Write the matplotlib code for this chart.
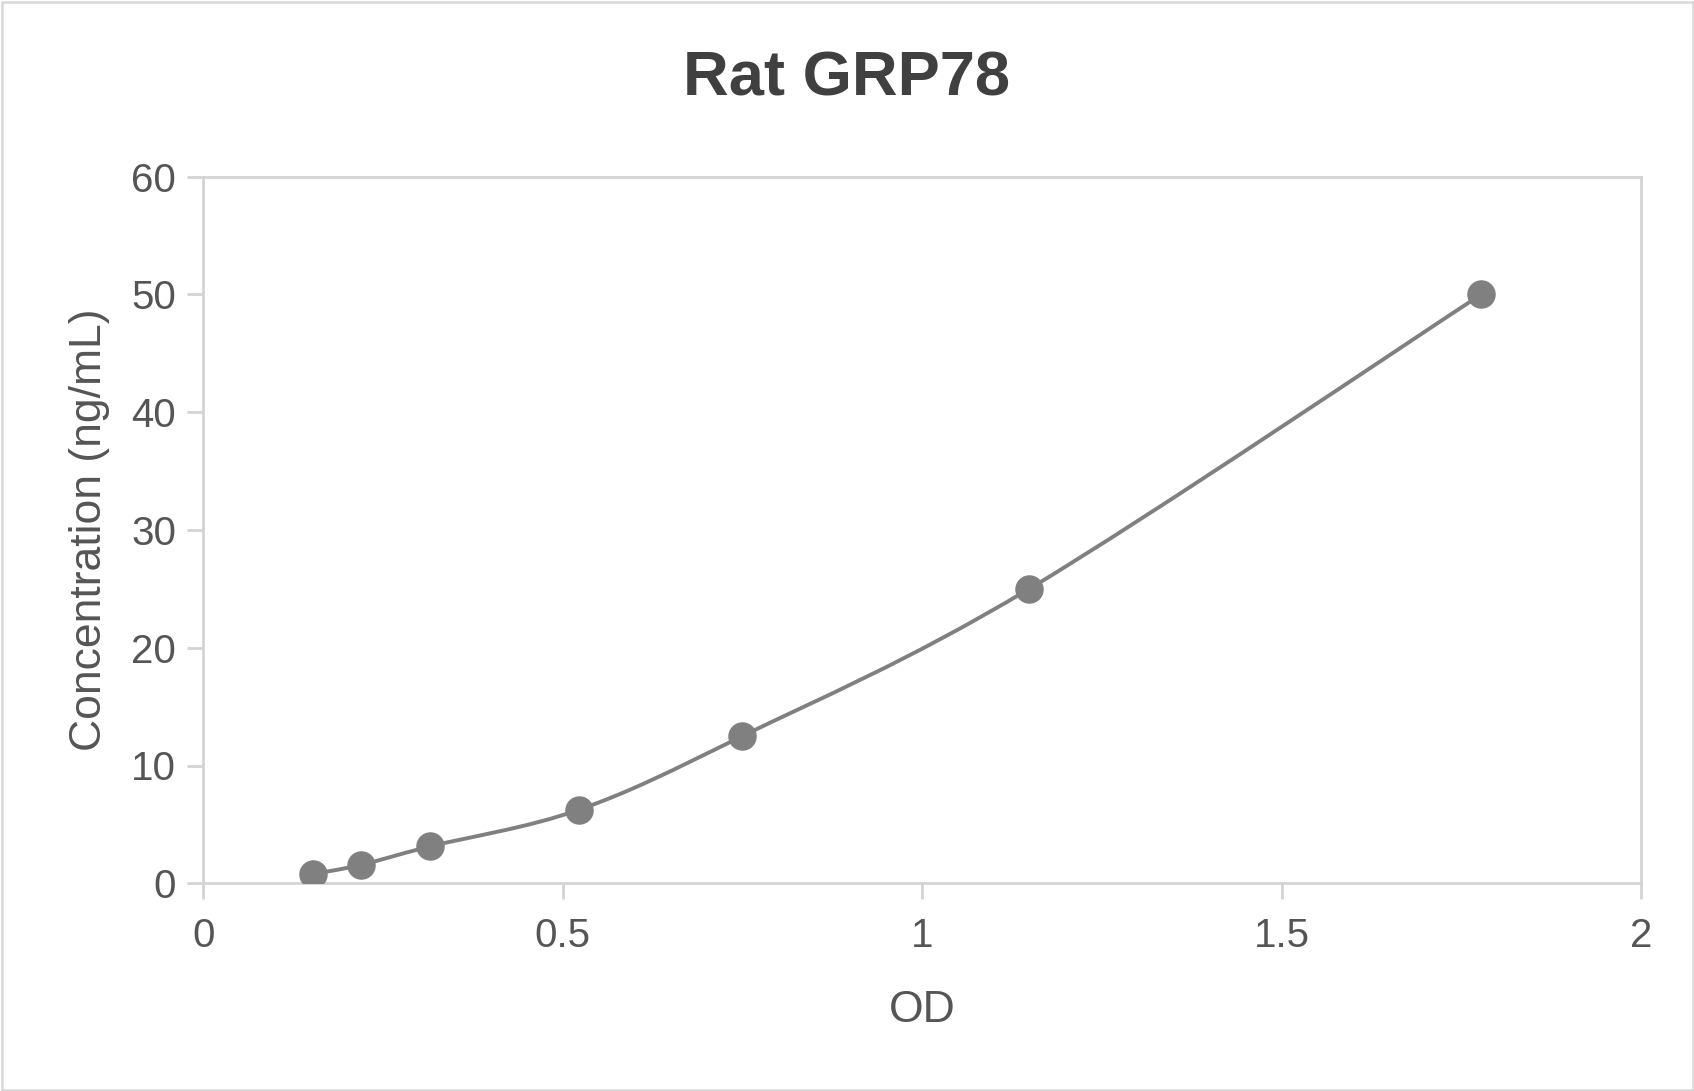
# Rat GRP78 standard curve (OD vs concentration)

import matplotlib.pyplot as plt
from matplotlib.path import Path
from matplotlib.patches import PathPatch, Rectangle

plt.rcParams["font.family"] = ["Liberation Sans", "DejaVu Sans"]

# ---- data ----
od = [0.152, 0.219, 0.315, 0.523, 0.750, 1.149, 1.778]
conc = [0.78, 1.56, 3.125, 6.25, 12.5, 25, 50]

x_ticks = [0, 0.5, 1, 1.5, 2]
x_tick_labels = ["0", "0.5", "1", "1.5", "2"]
y_ticks = [0, 10, 20, 30, 40, 50, 60]

title = "Rat GRP78"
x_label = "OD"
y_label = "Concentration (ng/mL)"

GREY = "#808080"
GRID = "#d4d4d4"
TEXT = "#555555"

W, H = 1694, 1091
fig = plt.figure(figsize=(W / 100, H / 100), dpi=100)
ax = fig.add_axes([203.3 / W, 1 - 883.3 / H, (1641 - 203.3) / W, (883.3 - 176.5) / H])


# smooth curve through the points (Catmull-Rom as cubic Bezier segments)
def smooth_path(xs, ys):
    pts = list(zip(xs, ys))
    n = len(pts)
    verts = [pts[0]]
    codes = [Path.MOVETO]
    for i in range(n - 1):
        p0 = pts[i - 1] if i > 0 else pts[i]
        p1 = pts[i]
        p2 = pts[i + 1]
        p3 = pts[i + 2] if i + 2 < n else pts[i + 1]
        c1 = (p1[0] + (p2[0] - p0[0]) / 6, p1[1] + (p2[1] - p0[1]) / 6)
        c2 = (p2[0] - (p3[0] - p1[0]) / 6, p2[1] - (p3[1] - p1[1]) / 6)
        verts += [c1, c2, p2]
        codes += [Path.CURVE4] * 3
    return Path(verts, codes)


ax.add_patch(PathPatch(smooth_path(od, conc), fill=False, edgecolor=GREY,
                       linewidth=2.8, capstyle="round", zorder=3))
ax.plot(od, conc, linestyle="none", marker="o", markersize=19.5,
        color=GREY, zorder=4)

ax.set_xlim(0, 2)
ax.set_ylim(0, 60)
ax.set_xticks(x_ticks)
ax.set_xticklabels(x_tick_labels)
ax.set_yticks(y_ticks)

for side in ["left", "right", "top", "bottom"]:
    ax.spines[side].set_color(GRID)
    ax.spines[side].set_linewidth(2.0)

ax.tick_params(axis="both", colors=GRID, width=2.0, length=11.5,
               labelcolor=TEXT, labelsize=29)
ax.tick_params(axis="x", pad=13)
ax.tick_params(axis="y", pad=8)

ax.set_xlabel(x_label, fontsize=32, color=TEXT, labelpad=25)
ax.set_ylabel(y_label, fontsize=32, color=TEXT, labelpad=15)
fig.text(0.5, 1 - 79 / H, title, ha="center", va="center",
         fontsize=45.5, fontweight="bold", color="#404040")

# light frame around the whole picture
fig.patches.append(Rectangle((1.5 / W, 1.5 / H), 1 - 3 / W, 1 - 3 / H,
                             transform=fig.transFigure, fill=False,
                             edgecolor="#d8d8d8", linewidth=1.8))

fig.savefig("out.png", dpi=100, facecolor="white")
